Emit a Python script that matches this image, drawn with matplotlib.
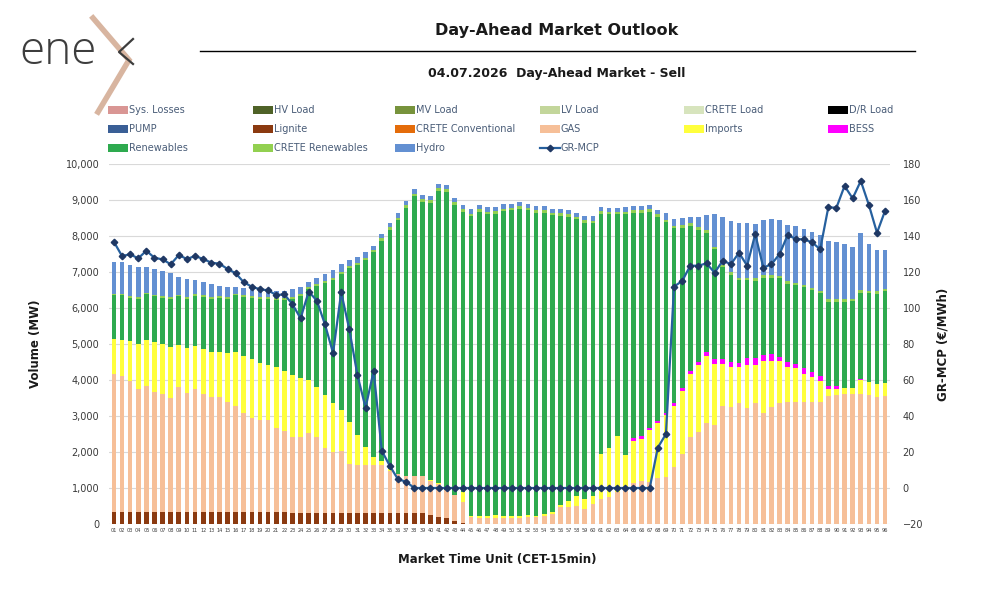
import numpy as np
import matplotlib.pyplot as plt
from matplotlib.patches import Rectangle
from matplotlib.lines import Line2D

plt.rcParams['font.family'] = ['DejaVu Sans']

mtu = [f"{i:02d}" for i in range(1, 97)]

lignite = [340, 340, 340, 340, 340, 340, 340, 340, 340, 340,
           340, 340, 340, 340, 340, 340, 340, 340, 340, 340,
           340, 340, 300, 300, 300, 300, 300, 300, 300, 300,
           300, 300, 300, 300, 300, 300, 300, 300, 300, 250,
           200, 160, 90, 40, 0, 0, 0, 0, 0, 0,
           0, 0, 0, 0, 0, 0, 0, 0, 0, 0,
           0, 0, 0, 0, 0, 0, 0, 0, 0, 0,
           0, 0, 0, 0, 0, 0, 0, 0, 0, 0,
           0, 0, 0, 0, 0, 0, 0, 0, 0, 0,
           0, 0, 0, 0, 0, 0]

gas = [3840, 3770, 3630, 3400, 3490, 3330, 3260, 3170, 3460, 3290,
       3420, 3280, 3190, 3190, 3050, 2940, 2730, 2610, 2550, 2540,
       2330, 2250, 2130, 2130, 2220, 2130, 1800, 1690, 1730, 1360,
       1330, 1330, 1330, 1330, 1180, 1090, 1040, 1040, 1020, 950,
       910, 790, 710, 560, 185, 170, 170, 160, 160, 160,
       170, 185, 185, 230, 280, 460, 460, 490, 430, 550,
       690, 740, 880, 970, 1150, 1200, 1170, 1290, 1310, 1570,
       1950, 2410, 2560, 2810, 2750, 3280, 3260, 3350, 3210, 3370,
       3090, 3260, 3370, 3400, 3400, 3400, 3400, 3400, 3560, 3580,
       3610, 3600, 3610, 3580, 3540, 3560]

imports = [960, 1010, 1110, 1270, 1290, 1380, 1390, 1400, 1160, 1260,
           1180, 1250, 1250, 1250, 1350, 1500, 1590, 1640, 1590, 1550,
           1700, 1660, 1720, 1620, 1480, 1380, 1470, 1360, 1140, 1180,
           840, 510, 240, 120, 40, 0, 0, 0, 0, 30,
           30, 0, 0, 280, 50, 50, 60, 80, 50, 50,
           60, 60, 50, 50, 60, 70, 190, 295, 260, 235,
           1250, 1360, 1560, 950, 1160, 1170, 1440, 1510, 1720, 1710,
           1750, 1760, 1870, 1870, 1700, 1170, 1110, 1020, 1200, 1040,
           1440, 1280, 1150, 950, 920, 780, 690, 580, 200, 180,
           180, 190, 390, 370, 340, 350]

bess = [0, 0, 0, 0, 0, 0, 0, 0, 0, 0,
        0, 0, 0, 0, 0, 0, 0, 0, 0, 0,
        0, 0, 0, 0, 0, 0, 0, 0, 0, 0,
        0, 0, 0, 0, 0, 0, 0, 0, 0, 0,
        0, 0, 0, 0, 0, 0, 0, 0, 0, 0,
        0, 0, 0, 0, 0, 0, 0, 0, 0, 0,
        0, 0, 0, 0, 90, 70, 70, 70, 60, 70,
        70, 80, 60, 100, 130, 130, 120, 110, 200, 200,
        160, 170, 130, 140, 120, 140, 140, 140, 80, 80,
        0, 0, 30, 0, 0, 0]

renewables = [1210, 1230, 1210, 1240, 1260, 1270, 1300, 1340, 1360, 1370,
              1400, 1430, 1480, 1490, 1520, 1570, 1640, 1690, 1770, 1820,
              1860, 1980, 2110, 2280, 2520, 2810, 3120, 3440, 3770, 4270,
              4720, 5190, 5690, 6120, 6660, 7050, 7440, 7770, 7630, 7700,
              8110, 8280, 8070, 7790, 8315, 8450, 8380, 8380, 8480, 8500,
              8530, 8465, 8405, 8360, 8230, 8030, 7880, 7675, 7680, 7575,
              6680, 6500, 6160, 6690, 6240, 6210, 5990, 5660, 5290, 4860,
              4460, 4030, 3680, 3310, 3050, 2550, 2430, 2290, 2160, 2140,
              2150, 2130, 2170, 2180, 2190, 2250, 2260, 2290, 2330, 2330,
              2390, 2400, 2400, 2460, 2510, 2550]

crete_ren = [50, 50, 50, 50, 50, 50, 50, 50, 50, 50,
             50, 50, 50, 50, 50, 50, 50, 50, 50, 50,
             50, 50, 50, 50, 50, 50, 50, 50, 60, 60,
             60, 60, 60, 70, 70, 70, 70, 70, 70, 70,
             70, 70, 70, 70, 70, 70, 70, 70, 70, 70,
             70, 70, 70, 70, 70, 70, 70, 70, 70, 70,
             70, 70, 70, 70, 70, 70, 70, 70, 70, 70,
             70, 70, 70, 70, 70, 70, 70, 70, 70, 70,
             70, 70, 70, 70, 70, 70, 70, 70, 70, 70,
             70, 70, 70, 70, 70, 70]

hydro = [870, 870, 860, 850, 700, 710, 700, 680, 500, 490,
         390, 380, 350, 290, 280, 170, 210, 220, 200, 200,
         200, 200, 210, 190, 160, 150, 200, 220, 220, 170,
         180, 160, 90, 120, 120, 120, 120, 120, 120, 120,
         120, 120, 120, 120, 120, 120, 120, 120, 120, 120,
         120, 120, 120, 120, 120, 120, 120, 120, 120, 120,
         120, 120, 120, 120, 120, 120, 120, 110, 180, 190,
         190, 180, 300, 430, 900, 1320, 1430, 1510, 1530, 1520,
         1530, 1550, 1550, 1560, 1580, 1550, 1540, 1550, 1620, 1600,
         1540, 1440, 1570, 1290, 1160, 1090]

# GR-MCP, EUR/MWh
gr_mcp = [136.8, 128.9, 129.8, 127.6, 131.8, 127.9, 127.0, 124.3, 129.4, 127.2,
          128.9, 127.2, 125.2, 124.6, 121.7, 119.3, 114.3, 111.8, 110.4, 109.8,
          107.2, 107.6, 102.0, 94.3, 109.1, 104.1, 90.9, 75.0, 108.7, 88.1,
          62.8, 44.6, 65.0, 20.7, 12.2, 4.8, 3.5, 0, 0, 0,
          0, 0, 0, 0, 0, 0, 0, 0, 0, 0,
          0, 0, 0, 0, 0, 0, 0, 0, 0, 0,
          0, 0, 0, 0, 0, 0, 0, 22.4, 30.0, 111.9,
          115.0, 123.5, 123.5, 124.8, 119.6, 126.3, 124.3, 130.7, 123.5, 141.1,
          122.4, 124.3, 130.0, 140.6, 138.3, 138.1, 136.5, 132.6, 155.9, 155.7,
          167.8, 160.9, 170.6, 157.2, 141.8, 154.1]

colors = {
    'Sys. Losses': '#d99694', 'HV Load': '#4f6228', 'MV Load': '#77933c',
    'LV Load': '#c3d69b', 'CRETE Load': '#d7e4bd', 'D/R Load': '#000000',
    'PUMP': '#3a5f96', 'Lignite': '#8b3a10', 'CRETE Conventional': '#e46c0a',
    'GAS': '#f6bf98', 'Imports': '#ffff3c', 'BESS': '#ff00ff',
    'Renewables': '#2eaa4f', 'CRETE Renewables': '#92d050', 'Hydro': '#6390d2',
    'GR-MCP': '#26609e',
}

legend_rows = [
    ['Sys. Losses', 'HV Load', 'MV Load', 'LV Load', 'CRETE Load', 'D/R Load'],
    ['PUMP', 'Lignite', 'CRETE Conventional', 'GAS', 'Imports', 'BESS'],
    ['Renewables', 'CRETE Renewables', 'Hydro', 'GR-MCP'],
]

stack = [('Lignite', lignite), ('GAS', gas), ('Imports', imports), ('BESS', bess),
         ('Renewables', renewables), ('CRETE Renewables', crete_ren), ('Hydro', hydro)]

W, H = 987, 592
fig = plt.figure(figsize=(W / 100, H / 100), dpi=100)


def fx(px):
    return px / W


def fy(py):
    return 1 - py / H


ax = fig.add_axes([fx(109), fy(524), fx(890) - fx(109), fy(164) - fy(524)])
x = np.arange(len(mtu))
bottom = np.zeros(len(mtu))
for name, vals in stack:
    vals = np.array(vals, dtype=float)
    ax.bar(x, vals, 0.58, bottom=bottom, color=colors[name], linewidth=0, zorder=2)
    bottom += vals

ax.set_xlim(-0.6, 95.6)
ax.set_ylim(0, 10000)
ax.set_yticks(range(0, 10001, 1000))
ax.set_yticklabels([f"{v:,}" for v in range(0, 10001, 1000)])
ax.set_xticks(x)
ax.set_xticklabels(mtu)
ax.grid(axis='y', color='#d9d9d9', lw=0.8, zorder=0)
ax.tick_params(axis='y', length=0, pad=7, labelsize=7, labelcolor='#3a3a3a')
ax.tick_params(axis='x', length=0, pad=3, labelsize=3.6, labelcolor='#3a3a3a')
for s in ax.spines.values():
    s.set_visible(False)

ax2 = ax.twinx()
ax2.plot(x, gr_mcp, color=colors['GR-MCP'], lw=1.6, marker='D', ms=3.3,
         mfc='#1f3864', mec='#1f3864', zorder=5)
ax2.set_ylim(-20, 180)
ax2.set_yticks(range(-20, 181, 20))
ax2.tick_params(axis='y', length=0, pad=9, labelsize=7, labelcolor='#3a3a3a')
for s in ax2.spines.values():
    s.set_visible(False)

# axis titles
fig.text(fx(36), fy(344), 'Volume (MW)', rotation=90, ha='center', va='center',
         fontsize=8.5, fontweight='bold', color='#1a1a1a')
fig.text(fx(943), fy(344), 'GR-MCP (€/MWh)', rotation=90, ha='center', va='center',
         fontsize=8.5, fontweight='bold', color='#1a1a1a')
fig.text(fx(497), fy(560), 'Market Time Unit (CET-15min)', ha='center', va='center',
         fontsize=8.5, fontweight='bold', color='#1a1a1a')

# header
fig.text(fx(557), fy(30), 'Day-Ahead Market Outlook', ha='center', va='center',
         fontsize=11.5, fontweight='bold', color='#1a1a1a')
fig.add_artist(Line2D([fx(200), fx(915)], [fy(51), fy(51)], color='black', lw=1,
                      transform=fig.transFigure))
fig.text(fx(557), fy(73), '04.07.2026  Day-Ahead Market - Sell', ha='center', va='center',
         fontsize=9, fontweight='bold', color='#1a1a1a')

# logo
fig.text(fx(19), fy(64), 'ene', ha='left', va='baseline', fontsize=33,
         color='#3d3d3d', family='Open Sans', fontweight='light')
fig.add_artist(Line2D([fx(93), fx(129), fx(98)], [fy(18), fy(60), fy(112)],
                      color='#d8b5a0', lw=4, solid_joinstyle='miter',
                      transform=fig.transFigure))
fig.add_artist(Line2D([fx(133), fx(119), fx(133)], [fy(39), fy(52), fy(64)],
                      color='#3d3d3d', lw=1.6, transform=fig.transFigure))

# legend, laid out row by row like the original
col_x = [108, 253, 395, 540, 684, 828]
row_y = [110, 129, 148]
for r, row in enumerate(legend_rows):
    for c, name in enumerate(row):
        x0, y0 = col_x[c], row_y[r]
        if name == 'GR-MCP':
            fig.add_artist(Line2D([fx(x0), fx(x0 + 20)], [fy(y0), fy(y0)],
                                  color=colors[name], lw=1.6, transform=fig.transFigure))
            fig.add_artist(Line2D([fx(x0 + 10)], [fy(y0)], marker='D', ms=3.3,
                                  color='#1f3864', transform=fig.transFigure))
        else:
            fig.add_artist(Rectangle((fx(x0), fy(y0 + 4)), 20 / W, 8 / H,
                                     transform=fig.transFigure, color=colors[name], lw=0))
        fig.text(fx(x0 + 21), fy(y0), name, ha='left', va='center', fontsize=7,
                 color='#4a5d78')

fig.savefig('out.png', dpi=100)
